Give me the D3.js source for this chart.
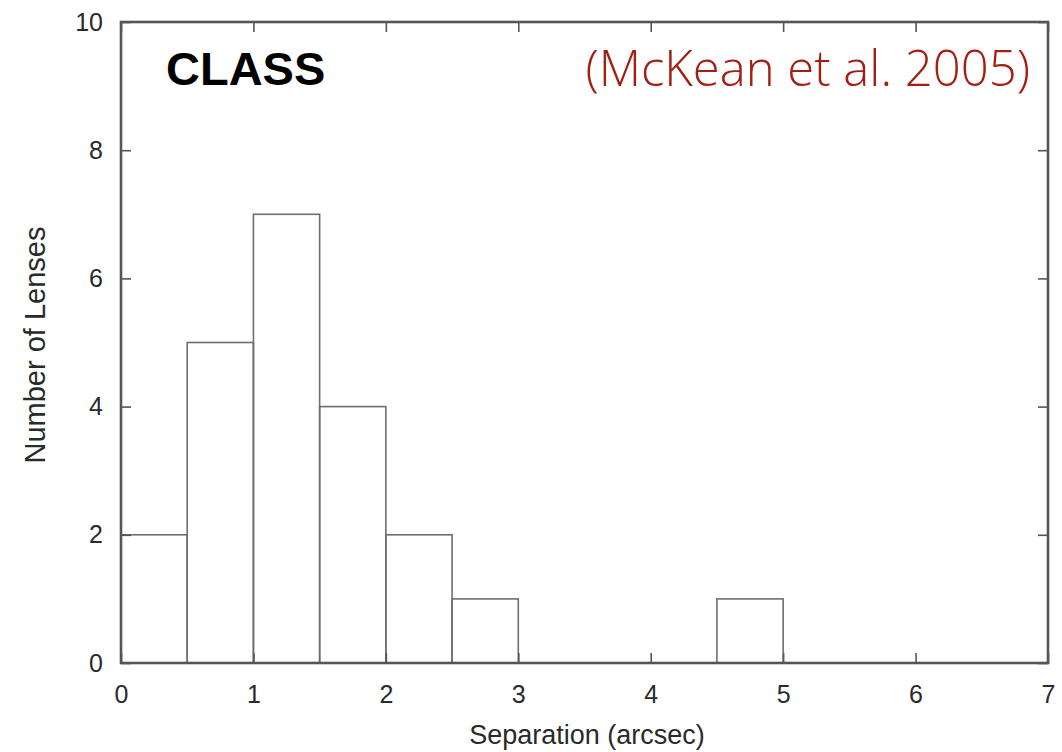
<!DOCTYPE html>
<html>
<head>
<meta charset="utf-8">
<script src="https://cdn.jsdelivr.net/npm/d3@7"></script>
<style>
  body { margin: 0; background: #fff; }
  svg { display: block; }
</style>
</head>
<body>
<svg id="chart" width="1062" height="752"></svg>
<script>
// Histogram bins of lens image separation (arcsec), bin width 0.5
const binStarts = [0, 0.5, 1.0, 1.5, 2.0, 2.5, 3.0, 3.5, 4.0, 4.5, 5.0, 5.5, 6.0, 6.5];
const counts    = [2, 5, 7, 4, 2, 1, 0, 0, 0, 1, 0, 0, 0, 0];
const binWidth = 0.5;
const xTicks = [0, 1, 2, 3, 4, 5, 6, 7];
const yTicks = [0, 2, 4, 6, 8, 10];

const svg = d3.select("#chart");
const W = 1062, H = 752;
const margin = { left: 121, top: 22, right: W - 1048, bottom: H - 663 };

const x = d3.scaleLinear().domain([0, 7]).range([margin.left, W - margin.right]);
const y = d3.scaleLinear().domain([0, 10]).range([H - margin.bottom, margin.top]);

const font = "'Liberation Sans', Arial, Helvetica, sans-serif";
const tickLen = 10;
const axisColor = "#555";
const textColor = "#2a2a2a";

// Bars (outlined only)
const bins = binStarts.map((s, i) => ({ x0: s, x1: s + binWidth, n: counts[i] })).filter(d => d.n > 0);
svg.append("g").selectAll("rect").data(bins).join("rect")
  .attr("x", d => x(d.x0))
  .attr("y", d => y(d.n))
  .attr("width", d => x(d.x1) - x(d.x0))
  .attr("height", d => y(0) - y(d.n))
  .attr("fill", "none")
  .attr("stroke", "#6e6e6e")
  .attr("stroke-width", 1.6);

// Axes with inward ticks on all four sides
function styleAxis(g) {
  g.select(".domain").remove();
  g.selectAll(".tick line").attr("stroke", axisColor).attr("stroke-width", 1.6);
  g.selectAll(".tick text").attr("fill", textColor).attr("font-family", font).attr("font-size", 25);
}
svg.append("g").attr("transform", `translate(0,${y(0)})`)
  .call(d3.axisBottom(x).tickValues(xTicks).tickSizeInner(-tickLen).tickSizeOuter(0).tickPadding(22).tickFormat(d3.format("d")))
  .call(styleAxis);
svg.append("g").attr("transform", `translate(0,${y(10)})`)
  .call(d3.axisTop(x).tickValues(xTicks).tickSizeInner(-tickLen).tickSizeOuter(0).tickFormat(""))
  .call(styleAxis);
svg.append("g").attr("transform", `translate(${x(0)},0)`)
  .call(d3.axisLeft(y).tickValues(yTicks).tickSizeInner(-tickLen).tickSizeOuter(0).tickPadding(18).tickFormat(d3.format("d")))
  .call(styleAxis);
svg.append("g").attr("transform", `translate(${x(7)},0)`)
  .call(d3.axisRight(y).tickValues(yTicks).tickSizeInner(-tickLen).tickSizeOuter(0).tickFormat(""))
  .call(styleAxis);

// Plot frame
svg.append("rect")
  .attr("x", x(0)).attr("y", y(10))
  .attr("width", x(7) - x(0)).attr("height", y(0) - y(10))
  .attr("fill", "none").attr("stroke", axisColor).attr("stroke-width", 2.6);

// Axis titles
svg.append("text")
  .attr("x", 587).attr("y", 744)
  .attr("text-anchor", "middle")
  .attr("font-family", font).attr("font-size", 27).attr("fill", textColor)
  .text("Separation (arcsec)");
svg.append("text")
  .attr("transform", `translate(45,345) rotate(-90)`)
  .attr("text-anchor", "middle")
  .attr("font-family", font).attr("font-size", 29).attr("fill", textColor)
  .text("Number of Lenses");

// Annotations
svg.append("text")
  .attr("x", 166).attr("y", 85)
  .attr("font-family", font).attr("font-size", 47).attr("font-weight", "bold").attr("fill", "#000")
  .text("CLASS");
svg.append("text")
  .attr("x", 1030).attr("y", 86)
  .attr("text-anchor", "end")
  .attr("font-family", "'Open Sans', 'Liberation Sans', sans-serif").attr("font-weight", 300)
  .attr("font-size", 49).attr("fill", "#a31f13")
  .text("(McKean et al. 2005)");
</script>
</body>
</html>
